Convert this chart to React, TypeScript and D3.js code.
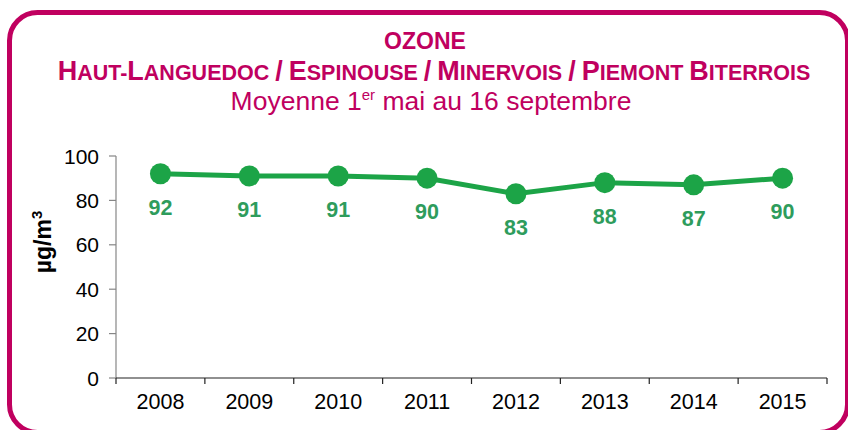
import React from "react";
import * as d3 from "d3";

const years = ["2008", "2009", "2010", "2011", "2012", "2013", "2014", "2015"];
const values = [92, 91, 91, 90, 83, 88, 87, 90];
const yTicks = [0, 20, 40, 60, 80, 100];
const title1 = "OZONE";
const title2 = "Haut-Languedoc / Espinouse / Minervois / Piemont Biterrois";
const yTitle = "µg/m";

const W = 848;
const H = 430;
const MAGENTA = "#C0005F";
const LINE = "#1CA447";
const LABEL = "#2E9C5C";
const FONT = "Liberation Sans, Arial, sans-serif";

function smallCaps(s: string) {
  const out: { t: string; big: boolean }[] = [];
  for (const ch of s) {
    const big = ch === "/" || (ch !== " " && ch === ch.toUpperCase() && ch !== ch.toLowerCase());
    const t = ch.toUpperCase();
    const last = out[out.length - 1];
    if (last && last.big === big) last.t += t;
    else out.push({ t, big });
  }
  return out;
}

export default function App() {
  const x = d3.scaleBand<string>().domain(years).range([116, 827]);
  const y = d3.scaleLinear().domain([0, 100]).range([378, 156]);
  const cx = (d: string) => (x(d) as number) + x.bandwidth() / 2;
  const line = d3
    .line<number>()
    .x((_, i) => cx(years[i]))
    .y((v) => y(v));
  const segs = smallCaps(title2);
  const boundaries = years.map((d) => x(d) as number).concat([827]);

  return (
    <svg width={W} height={H} style={{ position: "absolute", left: 0, top: 0 }} fontFamily={FONT}>
      <rect x={0} y={0} width={W} height={H} fill="#fff" />
      <rect x={9.5} y={12.5} width={838} height={420} rx={28} ry={28} fill="none" stroke={MAGENTA} strokeWidth={5} />
      <text x={425} y={49} textAnchor="middle" fontSize={23} fontWeight="bold" fill={MAGENTA}>
        {title1}
      </text>
      <text x={434} y={80} textAnchor="middle" fontWeight="bold" fill={MAGENTA}>
        {segs.map((s, i) => (
          <tspan key={i} fontSize={s.big ? 27 : 21.5}>
            {s.t}
          </tspan>
        ))}
      </text>
      <text x={431} y={110} textAnchor="middle" fontSize={26.5} fill={MAGENTA}>
        Moyenne 1<tspan fontSize={15} dy={-10}>er</tspan>
        <tspan dy={10}> mai au 16 septembre</tspan>
      </text>

      {/* y axis */}
      <line x1={116} x2={116} y1={y(100)} y2={y(0)} stroke="#868686" strokeWidth={1.2} />
      {yTicks.map((t) => (
        <g key={t}>
          <line x1={109} x2={116} y1={y(t)} y2={y(t)} stroke="#868686" strokeWidth={1.2} />
          <text x={99} y={y(t) + 7.5} textAnchor="end" fontSize={21} fill="#000">
            {t}
          </text>
        </g>
      ))}
      <text
        transform={`translate(51,${242}) rotate(-90)`}
        textAnchor="middle"
        fontSize={23}
        fontWeight="bold"
        fill="#000"
      >
        {yTitle}
        <tspan fontSize={15} dy={-9}>3</tspan>
      </text>

      {/* x axis */}
      <line x1={116} x2={827} y1={y(0)} y2={y(0)} stroke="#222" strokeWidth={1.2} />
      {boundaries.map((b, i) => (
        <line key={i} x1={b} x2={b} y1={y(0)} y2={y(0) + 6} stroke="#222" strokeWidth={1.2} />
      ))}
      {years.map((d) => (
        <text key={d} x={cx(d)} y={409} textAnchor="middle" fontSize={21.5} fill="#000">
          {d}
        </text>
      ))}

      <path d={line(values) as string} fill="none" stroke={LINE} strokeWidth={5} />
      {values.map((v, i) => (
        <circle key={i} cx={cx(years[i])} cy={y(v)} r={10.5} fill={LINE} />
      ))}
      {values.map((v, i) => (
        <text key={i} x={cx(years[i])} y={y(v) + 41} textAnchor="middle" fontSize={21.5} fontWeight="bold" fill={LABEL}>
          {v}
        </text>
      ))}
    </svg>
  );
}
